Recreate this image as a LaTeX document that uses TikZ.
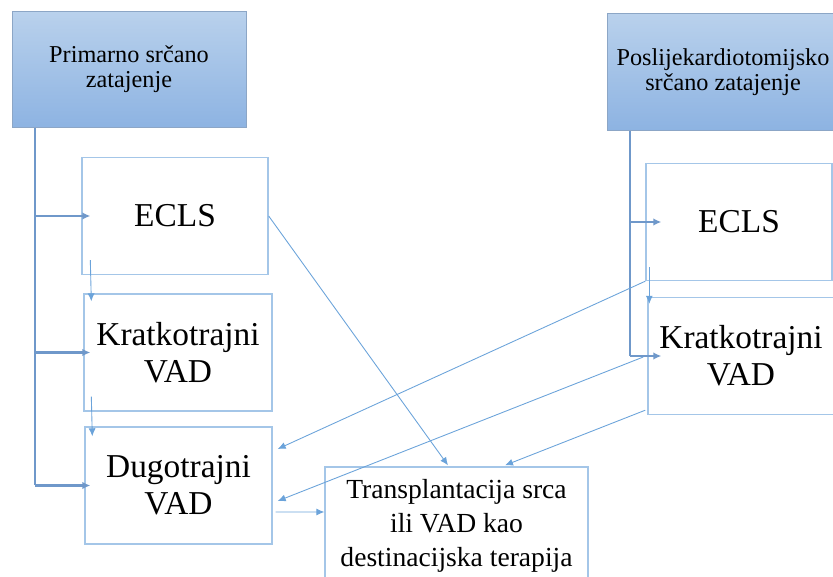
\documentclass[tikz,border=0pt]{standalone}
\usepackage{fontspec}
\setmainfont{Liberation Serif}
\usetikzlibrary{arrows.meta}
\definecolor{hdrtop}{HTML}{B9D1EC}
\definecolor{hdrbot}{HTML}{8DB3E2}
\definecolor{hdrline}{HTML}{8CA6C6}
\definecolor{boxline}{HTML}{A4C6E8}
\definecolor{linkblue}{HTML}{6BA3DA}
\definecolor{trunkblue}{HTML}{6F98CA}

\begin{document}
\begin{tikzpicture}[x=0.02cm, y=-0.02cm,
		kopf/.style={draw=hdrline, line width=0.5pt, top color=hdrtop, bottom color=hdrbot,
			minimum width=#1, minimum height=2.33cm, align=center, inner sep=0pt,
			font=\fontsize{13.8}{14.3}\selectfont},
		stufe/.style={draw=boxline, line width=0.8pt, fill=white, minimum width=#1,
			minimum height=2.34cm, align=center, inner sep=0pt,
			font=\fontsize{19}{21}\selectfont},
		ast/.style={draw=trunkblue, line width=1.2pt},
		astpfeil/.style={ast, -{Latex[length=1.6mm, width=1.5mm]}},
		pfeil/.style={draw=linkblue, line width=0.5pt, -{Latex[length=1.6mm, width=1.4mm]}}]
		\useasboundingbox (0, 0) rectangle (833, 577);
		\clip (0, 0) rectangle (833, 577);
		% linke Spalte
		\node[kopf=4.68cm] (hdrA) at (129, 69.5) {Primarno srčano\\zatajenje};
		\node[stufe=3.72cm] (eclsA) at (175, 216) {ECLS};
		\node[stufe=3.76cm] (kratA) at (178, 352.5) {Kratkotrajni\\VAD};
		\node[stufe=3.74cm] (dugoA) at (178.5, 485.5) {Dugotrajni\\VAD};
		\node[stufe=5.26cm, font=\fontsize{15.7}{19.3}\selectfont] (trans) at (456.5, 525.5) {Transplantacija srca\\ili VAD kao\\destinacijska terapija};
		% rechte Spalte
		\node[kopf=4.64cm] (hdrB) at (723, 72) {Poslijekardiotomijsko\\srčano zatajenje};
		\node[stufe=3.72cm] (eclsB) at (739, 222) {ECLS};
		\node[stufe=3.72cm] (kratB) at (741, 356) {Kratkotrajni\\VAD};
		% Stamm links
		\coordinate (stA) at ([shift={(23, 0)}]hdrA.south west);
		\draw[ast] (stA) -- (stA |- dugoA.west);
		\draw[astpfeil] (stA |- eclsA.west) -- ([shift={(9, 0)}]eclsA.west);
		\draw[astpfeil] (stA |- kratA.west) -- ([shift={(7, 0)}]kratA.west);
		\draw[astpfeil] (stA |- dugoA.west) -- ([shift={(6, 0)}]dugoA.west);
		% Stamm rechts
		\coordinate (stB) at ([shift={(23, 0)}]hdrB.south west);
		\draw[ast] (stB) -- (stB |- kratB.west);
		\draw[astpfeil] (stB |- eclsB.west) -- ([shift={(16, 0)}]eclsB.west);
		\draw[astpfeil] (stB |- kratB.west) -- ([shift={(14, 0)}]kratB.west);
		% Übergänge
		\draw[pfeil] ([shift={(9, -15)}]eclsA.south west) -- ([shift={(8, 8)}]kratA.north west);
		\draw[pfeil] ([shift={(8, -15)}]kratA.south west) -- ([shift={(8, 10)}]dugoA.north west);
		\draw[pfeil] ([shift={(4, -14)}]eclsB.south west) -- ([shift={(2, 7)}]kratB.north west);
		\draw[pfeil] (eclsA.east) -- ([shift={(-8.5, -1)}]trans.north);
		\draw[pfeil] (eclsB.south west) -- ([shift={(5, -36.5)}]dugoA.east);
		\draw[pfeil] ([shift={(-4, 1)}]kratB.west) -- ([shift={(5, 15.5)}]dugoA.east);
		\draw[pfeil] ([shift={(-2, -5)}]kratB.south west) -- ([shift={(48.5, -1)}]trans.north);
		\draw[pfeil] ([shift={(3, 26.5)}]dugoA.east) -- ([shift={(0, -13.5)}]trans.west);
	\end{tikzpicture}
\end{document}
